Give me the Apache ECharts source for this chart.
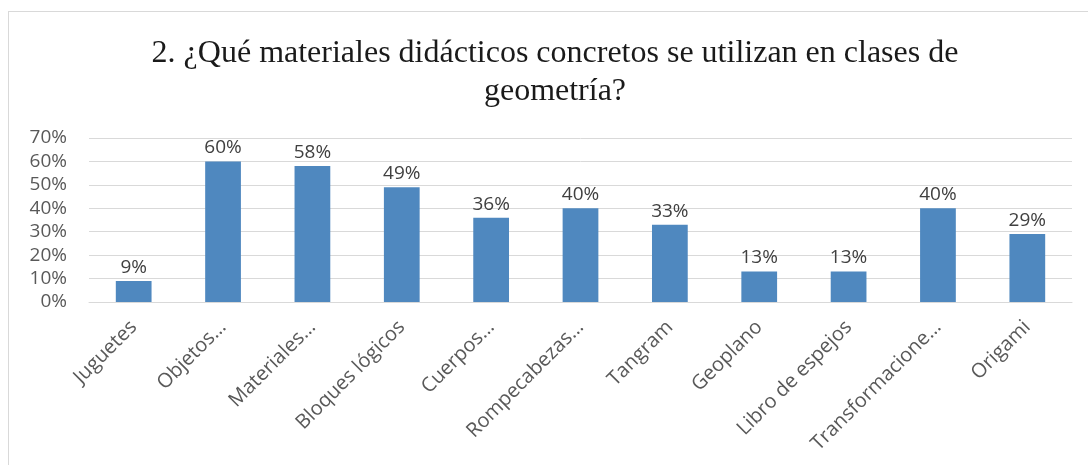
<!DOCTYPE html>
<html lang="es">
<head>
    <meta charset="UTF-8">
    <title>Materiales didácticos</title>
    <script src="https://cdn.jsdelivr.net/npm/echarts@6.0.0/dist/echarts.min.js"></script>
    <style>
        body { margin: 0; background: #fff; overflow: hidden; }
        #frame { position: absolute; left: 8px; top: 11px; width: 1100px; height: 470px; border: 1px solid #d9d9d9; }
        #chart { position: absolute; left: 0; top: 0; width: 1088px; height: 465px; }
    </style>
</head>
<body>
    <div id="frame"></div>
    <div id="chart"></div>
    <script>
    // etiquetas tal como aparecen (recortadas) en el gráfico
    const categories = ['Juguetes', 'Objetos…', 'Materiales…', 'Bloques lógicos', 'Cuerpos…',
        'Rompecabezas…', 'Tangram', 'Geoplano', 'Libro de espejos', 'Transformacione…', 'Origami'];
    const percentages = [9, 60, 58, 49, 36, 40, 33, 13, 13, 40, 29];
    const yTicks = [0, 10, 20, 30, 40, 50, 60, 70];

    const chart = echarts.init(document.getElementById('chart'));
    const option = {
        animation: false,
        title: {
            text: '2. ¿Qué materiales didácticos concretos se utilizan en clases de\ngeometría?',
            left: 550,
            top: 30,
            textAlign: 'center',
            textStyle: {
                fontFamily: 'Liberation Serif',
                fontWeight: 'normal',
                fontSize: 32,
                lineHeight: 38,
                color: '#1a1a1a'
            }
        },
        grid: { left: 89, right: 16, top: 138, bottom: 163 },
        xAxis: {
            type: 'category',
            data: categories,
            axisLine: { lineStyle: { color: '#d9d9d9', width: 1 } },
            axisTick: { show: false },
            axisLabel: {
                rotate: 45,
                interval: 0,
                margin: 22,
                fontFamily: 'Open Sans',
                fontSize: 20,
                color: '#595959'
            }
        },
        yAxis: {
            type: 'value',
            min: yTicks[0],
            max: yTicks[yTicks.length - 1],
            interval: 10,
            axisLine: { show: false },
            axisTick: { show: false },
            splitLine: { lineStyle: { color: '#d9d9d9', width: 1 } },
            axisLabel: {
                margin: 22,
                fontFamily: 'Open Sans',
                fontSize: 19,
                color: '#595959',
                formatter: v => v + '%'
            }
        },
        series: [{
            type: 'bar',
            data: percentages,
            barWidth: '40%',
            itemStyle: { color: '#4f88bf' },
            label: {
                show: true,
                position: 'top',
                distance: 4,
                fontFamily: 'Open Sans',
                fontSize: 19,
                color: '#404040',
                formatter: p => p.value + '%'
            }
        }]
    };
    chart.setOption(option);
    </script>
</body>
</html>
